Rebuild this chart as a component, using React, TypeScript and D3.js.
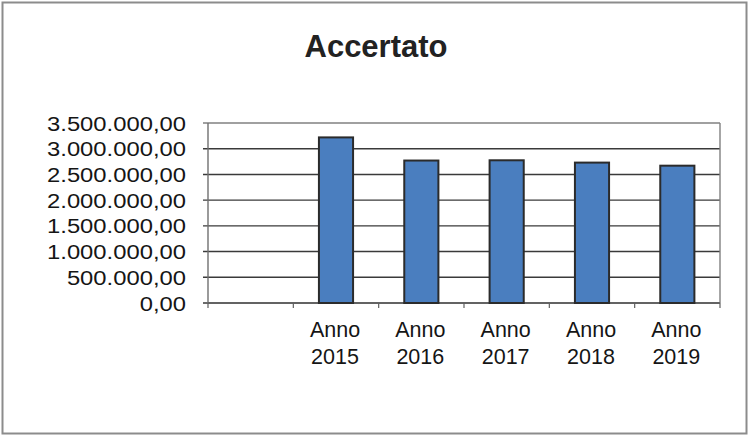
import React from "react";
import * as d3 from "d3";

const categories: string[] = ["", "Anno 2015", "Anno 2016", "Anno 2017", "Anno 2018", "Anno 2019"];
const values: (number | null)[] = [null, 3220000, 2770000, 2775000, 2730000, 2670000];
const yTicks: number[] = [0, 500000, 1000000, 1500000, 2000000, 2500000, 3000000, 3500000];
const title = "Accertato";

const W = 752;
const H = 437;
const plot = { left: 208, right: 720, top: 123, bottom: 303 };

function fmt(v: number): string {
  const s = Math.round(v).toString().replace(/\B(?=(\d{3})+(?!\d))/g, ".");
  return s + ",00";
}

// Arial advance widths (em) for the label characters
function emWidth(s: string): number {
  let w = 0;
  for (const ch of s) w += ch === "." || ch === "," ? 0.278 : 0.556;
  return w;
}

export default function App() {
  const x = d3.scaleBand<string>().domain(categories.map((c, i) => String(i))).range([plot.left, plot.right]).padding(0);
  const y = d3.scaleLinear().domain([0, 3500000]).range([plot.bottom, plot.top]);
  const bw = x.bandwidth() * 0.4;
  const font = "Arial, 'Liberation Sans', sans-serif";
  const pxPerEm = 23.8;
  const labelRight = 186;

  return (
    <svg width={W} height={H} style={{ position: "absolute", left: 0, top: 0, background: "#fff" }}>
      <rect x={2.5} y={2.5} width={744} height={431} fill="#fff" stroke="#8c8c8c" strokeWidth={2} />
      <text x={376} y={57} textAnchor="middle" fontFamily={font} fontWeight="bold" fontSize={31} fill="#222">
        {title}
      </text>
      {/* gridlines */}
      {yTicks.map((t) => (
        <line key={"g" + t} x1={plot.left - 5} x2={plot.right} y1={y(t)} y2={y(t)}
          stroke={t === 3500000 ? "#808080" : "#3a3a3a"} strokeWidth={1.4} />
      ))}
      {/* plot border */}
      <line x1={plot.left} x2={plot.left} y1={plot.top} y2={plot.bottom} stroke="#707070" strokeWidth={1.4} />
      <line x1={plot.right} x2={plot.right} y1={plot.top} y2={plot.bottom} stroke="#808080" strokeWidth={1.4} />
      <line x1={plot.left} x2={plot.right} y1={plot.bottom} y2={plot.bottom} stroke="#606060" strokeWidth={1.6} />
      {/* x ticks */}
      {categories.map((c, i) => (
        <line key={"t" + i} x1={x(String(i))!} x2={x(String(i))!} y1={plot.bottom} y2={plot.bottom + 5} stroke="#606060" strokeWidth={1.2} />
      ))}
      <line x1={plot.right} x2={plot.right} y1={plot.bottom} y2={plot.bottom + 5} stroke="#606060" strokeWidth={1.2} />
      {/* bars */}
      {values.map((v, i) =>
        v == null ? null : (
          <rect key={"b" + i}
            x={x(String(i))! + x.bandwidth() / 2 - bw / 2}
            y={y(v)}
            width={bw}
            height={y(0) - y(v)}
            fill="#4a7ebf" stroke="#2b2b2b" strokeWidth={2} />
        )
      )}
      {/* y labels */}
      {yTicks.map((t) => {
        const s = fmt(t);
        const len = emWidth(s) * pxPerEm;
        return (
          <text key={"l" + t} x={labelRight - len} y={y(t) + 7.5}
            textLength={len} lengthAdjust="spacingAndGlyphs"
            fontFamily={font} fontSize={20.5} fill="#151515">
            {s}
          </text>
        );
      })}
      {/* x labels */}
      {categories.map((c, i) => {
        if (!c) return null;
        const parts = c.split(" ");
        const cx = x(String(i))! + x.bandwidth() / 2 - 1;
        return (
          <text key={"x" + i} textAnchor="middle" fontFamily={font} fontSize={21.5} fill="#151515">
            <tspan x={cx} y={337}>{parts[0]}</tspan>
            <tspan x={cx} y={364}>{parts[1]}</tspan>
          </text>
        );
      })}
    </svg>
  );
}
